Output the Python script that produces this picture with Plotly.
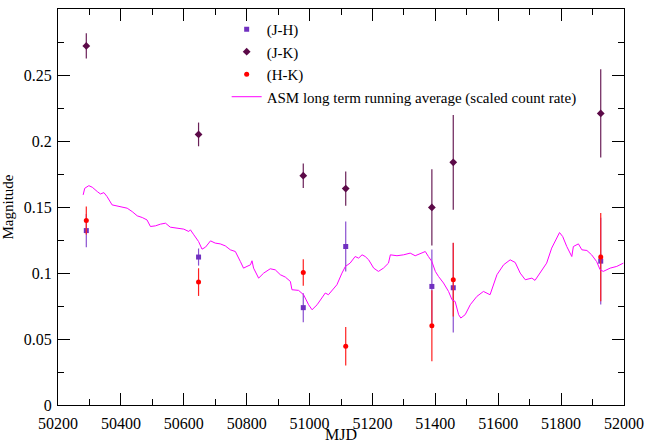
import plotly.graph_objects as go

# IR colour measurements (MJD, value, error)
mjd = [50290, 50647, 50980, 51115, 51389, 51457, 51926]

jh = [0.1324, 0.1123, 0.0739, 0.1203, 0.0900, 0.0890, 0.1092]
jh_err = [0.0126, 0.0065, 0.0110, 0.0190, 0.0280, 0.0340, 0.0330]

jk = [0.2726, 0.2054, 0.1741, 0.1643, 0.1500, 0.1842, 0.2213]
jk_err = [0.0095, 0.0090, 0.0093, 0.0130, 0.0290, 0.0360, 0.0335]

hk = [0.1400, 0.0933, 0.1006, 0.0446, 0.0602, 0.0951, 0.1123]
hk_err = [0.0106, 0.0105, 0.0100, 0.0146, 0.0270, 0.0280, 0.0335]

# ASM long term running average, scaled
asm_mjd = [50280, 50285, 50298, 50309, 50325, 50335, 50346, 50356, 50372, 50388,
           50404, 50420, 50436, 50452, 50468, 50483, 50494, 50510, 50526, 50542,
           50557, 50579, 50600, 50616, 50621, 50632, 50647, 50658, 50669, 50685,
           50700, 50716, 50732, 50748, 50764, 50780, 50790, 50801, 50812, 50817,
           50822, 50838, 50854, 50875, 50891, 50907, 50923, 50939, 50944, 50965,
           50981, 50997, 51008, 51024, 51040, 51050, 51060, 51087, 51103, 51114,
           51129, 51145, 51156, 51167, 51177, 51188, 51204, 51219, 51235, 51251,
           51257, 51278, 51299, 51320, 51336, 51352, 51368, 51378, 51389, 51400,
           51410, 51426, 51442, 51453, 51463, 51474, 51481, 51495, 51511, 51532,
           51553, 51574, 51596, 51617, 51638, 51654, 51670, 51686, 51707, 51717,
           51733, 51754, 51770, 51786, 51795, 51805, 51818, 51834, 51839, 51855,
           51866, 51882, 51897, 51913, 51924, 51934, 51956, 51977, 51998]
asm_val = [0.1595, 0.1645, 0.1665, 0.1653, 0.1620, 0.1602, 0.1612, 0.1582, 0.1519, 0.1511,
           0.1501, 0.1494, 0.1468, 0.1436, 0.1423, 0.1405, 0.1355, 0.1360, 0.1373, 0.1380,
           0.1350, 0.1342, 0.1335, 0.1317, 0.1330, 0.1292, 0.1241, 0.1183, 0.1198, 0.1246,
           0.1229, 0.1223, 0.1208, 0.1178, 0.1165, 0.1089, 0.1039, 0.1052, 0.1064, 0.1095,
           0.1039, 0.0963, 0.1001, 0.1034, 0.1026, 0.0989, 0.0971, 0.0938, 0.0875, 0.0870,
           0.0837, 0.0761, 0.0723, 0.0761, 0.0812, 0.0850, 0.0837, 0.0913, 0.1001, 0.1052,
           0.1077, 0.1127, 0.1115, 0.1140, 0.1127, 0.1102, 0.1039, 0.1014, 0.1039, 0.1077,
           0.1140, 0.1133, 0.1140, 0.1153, 0.1133, 0.1148, 0.1165, 0.1127, 0.1089, 0.1014,
           0.0976, 0.0926, 0.0862, 0.0799, 0.0786, 0.0686, 0.0660, 0.0686, 0.0761, 0.0824,
           0.0862, 0.0837, 0.0989, 0.1064, 0.1102, 0.1082, 0.1001, 0.0951, 0.0963, 0.0946,
           0.1001, 0.1077, 0.1191, 0.1266, 0.1309, 0.1279, 0.1203, 0.1127, 0.1203, 0.1223,
           0.1178, 0.1173, 0.1140, 0.1089, 0.1027, 0.1014, 0.1039, 0.1052, 0.1077]

x_ticks = [50200, 50400, 50600, 50800, 51000, 51200, 51400, 51600, 51800, 52000]
y_ticks = [0, 0.05, 0.1, 0.15, 0.2, 0.25]
y_labels = ["0", "0.05", "0.1", "0.15", "0.2", "0.25"]

serif = "Liberation Serif"
tick_font = dict(family=serif, size=16, color="black")

fig = go.Figure()

fig.add_trace(go.Scatter(
    x=mjd, y=jh, mode="markers", name="(J-H)",
    marker=dict(symbol="square", size=5, color="#7030c0"),
    error_y=dict(type="data", array=jh_err, color="#8a50d0", thickness=1.2, width=0),
))
fig.add_trace(go.Scatter(
    x=mjd, y=jk, mode="markers", name="(J-K)",
    marker=dict(symbol="diamond", size=6, color="#5c0a48"),
    error_y=dict(type="data", array=jk_err, color="#6a2058", thickness=1.2, width=0),
))
fig.add_trace(go.Scatter(
    x=mjd, y=hk, mode="markers", name="(H-K)",
    marker=dict(symbol="circle", size=5, color="#ff0000"),
    error_y=dict(type="data", array=hk_err, color="#ff2020", thickness=1.2, width=0),
))
fig.add_trace(go.Scatter(
    x=asm_mjd, y=asm_val, mode="lines",
    name="ASM long term running average (scaled count rate)",
    line=dict(color="#ff00ff", width=1),
))

fig.update_xaxes(range=[50200, 52000], tickvals=x_ticks, ticktext=[str(v) for v in x_ticks],
                 minor=dict(dtick=100, tick0=50200, ticks="inside", ticklen=6, tickcolor="black"),
                 showgrid=False, zeroline=False, showline=True, linecolor="black", linewidth=1,
                 mirror="ticks", ticks="inside", ticklen=12, tickcolor="black",
                 tickfont=tick_font, ticklabelstandoff=4, automargin=False)
fig.update_yaxes(range=[0, 0.3006], tickvals=y_ticks, ticktext=y_labels,
                 minor=dict(dtick=0.025, tick0=0, ticks="inside", ticklen=6, tickcolor="black"),
                 showgrid=False, zeroline=False, showline=True, linecolor="black", linewidth=1,
                 mirror="ticks", ticks="inside", ticklen=12, tickcolor="black",
                 tickfont=tick_font, ticklabelstandoff=2, automargin=False,
                 title=dict(text="Magnitude", font=dict(family=serif, size=15, color="black"), standoff=8))

# x axis title placed just under the tick labels
fig.add_annotation(text="MJD", xref="paper", yref="paper", x=0.5, y=0,
                   xanchor="center", yanchor="top", yshift=-19, showarrow=False,
                   font=dict(family=serif, size=16, color="black"))

fig.update_layout(
    width=654, height=444,
    margin=dict(l=58, r=30, t=9, b=39),
    paper_bgcolor="white", plot_bgcolor="white",
    font=dict(family=serif, color="black"),
    legend=dict(x=0.298, y=0.99, xanchor="left", yanchor="top",
                bgcolor="rgba(0,0,0,0)", font=dict(family=serif, size=15, color="black"),
                tracegroupgap=0, itemwidth=30),
    showlegend=True,
)

# drop the default page margin so the figure fills the window
fig.write_html("out.html", config={"displayModeBar": False},
               post_script="document.body.style.margin='0';")
